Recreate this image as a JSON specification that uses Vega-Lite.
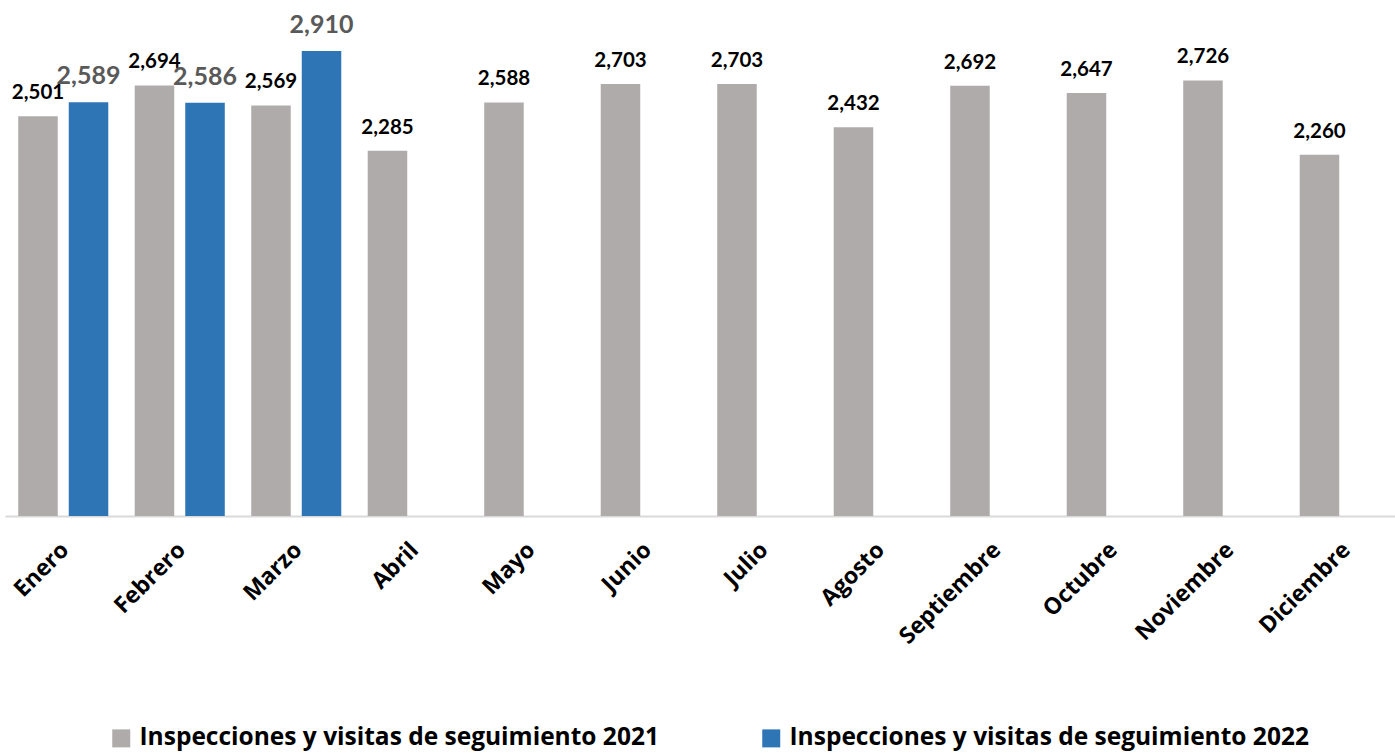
{
  "$schema": "https://vega.github.io/schema/vega-lite/v6.json",
  "autosize": {"type": "none"},
  "width": 1390,
  "height": 516,
  "padding": {"left": 5, "top": 0, "right": 0, "bottom": 236},
  "background": "white",
  "config": {"view": {"stroke": null}, "font": "Lato"},
  "data": {"values": [
    {"mes": "Enero", "serie": "Inspecciones y visitas de seguimiento 2021", "valor": 2501},
    {"mes": "Enero", "serie": "Inspecciones y visitas de seguimiento 2022", "valor": 2589},
    {"mes": "Febrero", "serie": "Inspecciones y visitas de seguimiento 2021", "valor": 2694},
    {"mes": "Febrero", "serie": "Inspecciones y visitas de seguimiento 2022", "valor": 2586},
    {"mes": "Marzo", "serie": "Inspecciones y visitas de seguimiento 2021", "valor": 2569},
    {"mes": "Marzo", "serie": "Inspecciones y visitas de seguimiento 2022", "valor": 2910},
    {"mes": "Abril", "serie": "Inspecciones y visitas de seguimiento 2021", "valor": 2285},
    {"mes": "Mayo", "serie": "Inspecciones y visitas de seguimiento 2021", "valor": 2588},
    {"mes": "Junio", "serie": "Inspecciones y visitas de seguimiento 2021", "valor": 2703},
    {"mes": "Julio", "serie": "Inspecciones y visitas de seguimiento 2021", "valor": 2703},
    {"mes": "Agosto", "serie": "Inspecciones y visitas de seguimiento 2021", "valor": 2432},
    {"mes": "Septiembre", "serie": "Inspecciones y visitas de seguimiento 2021", "valor": 2692},
    {"mes": "Octubre", "serie": "Inspecciones y visitas de seguimiento 2021", "valor": 2647},
    {"mes": "Noviembre", "serie": "Inspecciones y visitas de seguimiento 2021", "valor": 2726},
    {"mes": "Diciembre", "serie": "Inspecciones y visitas de seguimiento 2021", "valor": 2260}
  ]},
  "encoding": {
    "x": {
      "field": "mes", "type": "nominal",
      "sort": ["Enero","Febrero","Marzo","Abril","Mayo","Junio","Julio","Agosto","Septiembre","Octubre","Noviembre","Diciembre"],
      "scale": {"range": [0, 1398], "paddingInner": 0.227, "paddingOuter": 0.1135},
      "axis": {
        "title": null, "ticks": false, "grid": false,
        "domainColor": "#D9D9D9", "domainWidth": 2,
        "labelAngle": -45, "labelAlign": "right", "labelBaseline": "middle",
        "labelFontSize": 23, "labelFontWeight": "bold", "labelColor": "#000000",
        "labelPadding": 30, "labelOffset": 2, "labelFont": "Open Sans"
      }
    },
    "xOffset": {"field": "serie", "type": "nominal", "scale": {"paddingInner": 0.218, "paddingOuter": 0}},
    "y": {"field": "valor", "type": "quantitative", "scale": {"domain": [0, 3229], "nice": false}, "axis": null}
  },
  "layer": [
    {
      "mark": {"type": "bar"},
      "encoding": {
        "color": {
          "field": "serie", "type": "nominal",
          "scale": {"domain": ["Inspecciones y visitas de seguimiento 2021", "Inspecciones y visitas de seguimiento 2022"], "range": ["#AFABAB", "#2E75B6"]},
          "legend": {
            "title": null, "orient": "none", "direction": "horizontal",
            "legendX": 104, "legendY": 726,
            "symbolType": "square", "symbolSize": 324, "symbolStrokeWidth": 0,
            "labelFontSize": 24.5, "labelFontWeight": "bold", "labelColor": "#000000", "labelFont": "Open Sans",
            "labelLimit": 700, "columnPadding": 100, "labelOffset": 6
          }
        }
      }
    },
    {
      "transform": [{"filter": "datum.serie == 'Inspecciones y visitas de seguimiento 2021'"}],
      "mark": {"type": "text", "baseline": "alphabetic", "dy": -17, "fontSize": 20.5, "fontWeight": "bold", "color": "#000000", "font": "Lato"},
      "encoding": {"text": {"field": "valor", "type": "quantitative", "format": ","}}
    },
    {
      "transform": [{"filter": "datum.serie == 'Inspecciones y visitas de seguimiento 2022'"}],
      "mark": {"type": "text", "baseline": "alphabetic", "dy": -18, "fontSize": 25, "fontWeight": "bold", "color": "#595959", "font": "Lato"},
      "encoding": {"text": {"field": "valor", "type": "quantitative", "format": ","}}
    }
  ]
}
